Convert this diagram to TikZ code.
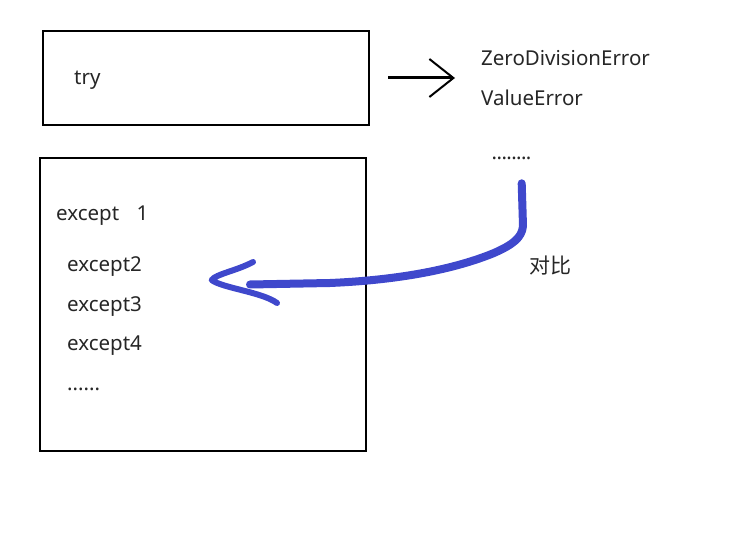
\documentclass[tikz,border=0pt]{standalone}
\usepackage{fontspec}
\setmainfont{Noto Sans}
\newfontfamily\cjk{Noto Sans CJK SC}
\usepackage{xcolor}
\usepackage{tikz}
\usetikzlibrary{arrows.meta, positioning}

\definecolor{penblue}{RGB}{63,72,204}

\begin{document}
\begin{tikzpicture}[
  x=1pt, y=-1pt,
  box/.style={rectangle, draw=black, line width=2pt, inner sep=0pt,
    minimum width=326pt},
  label/.style={anchor=base west, inner sep=0pt, font=\fontsize{20.5}{22}\selectfont,
    text=black!85},
  tryarr/.style={line width=3pt, -{Straight Barb[length=24pt, width=38pt, line width=2pt]}},
  pen/.style={penblue, line width=8pt, line cap=round, line join=round},
  penhead/.style={penblue, line width=6pt, line cap=round, line join=round},
]
\useasboundingbox (0,0) rectangle (750,556);
% ====== TRY BLOCK ======
\node[box, minimum height=94pt] (try_box) at (206,78) {};
\node[label] (try_txt) at (74,85) {try};
\node[label] (err_zde) at (481,66) {ZeroDivisionError};
\node[label] (err_val) at (481,106) {ValueError};
\node[label] (err_more) at (492,160) {\kern-0.5pt.\kern-0.6pt.\kern-0.6pt.\kern-0.6pt.\kern-0.6pt.\kern-0.6pt.\kern-0.6pt.\kern-0.6pt.};
\draw[tryarr, shorten <=18pt, shorten >=26pt] (try_box.east) -- (err_zde.west |- try_box.east);
%
% ====== EXCEPT BLOCK ======
\node[box, minimum height=293pt] (exc_box) at (203,304.5) {};
\node[label] (exc_1) at (56,220.7) {except\hspace{0.85em}1};
\node[label] (exc_2) at (67,271.7) {except2};
\node[label] (exc_3) at (67,311.7) {except3};
\node[label] (exc_4) at (67,350.7) {except4};
\node[label] (exc_more) at (67,390.7) {......};
%
% ====== COMPARE ARROW ======
\node[label, font=\cjk\fontsize{21}{24}\selectfont] (cmp_txt) at (529,274) {对比};
\coordinate (cmp_start) at (521.7,183.3);
\coordinate (cmp_end) at (250,284.5);
\coordinate (cmp_tip) at (211.7,280);
\draw[pen] (cmp_start) -- (523,226)
  .. controls (522,238) and (512,245) .. (494,253)
  .. controls (455,269) and (400,280) .. (330,283) -- (cmp_end);
\draw[penhead] (253,262) .. controls (236,271) and (216,274) .. (cmp_tip)
  .. controls (222,288) and (262,292) .. (277,303);
\end{tikzpicture}
\end{document}
